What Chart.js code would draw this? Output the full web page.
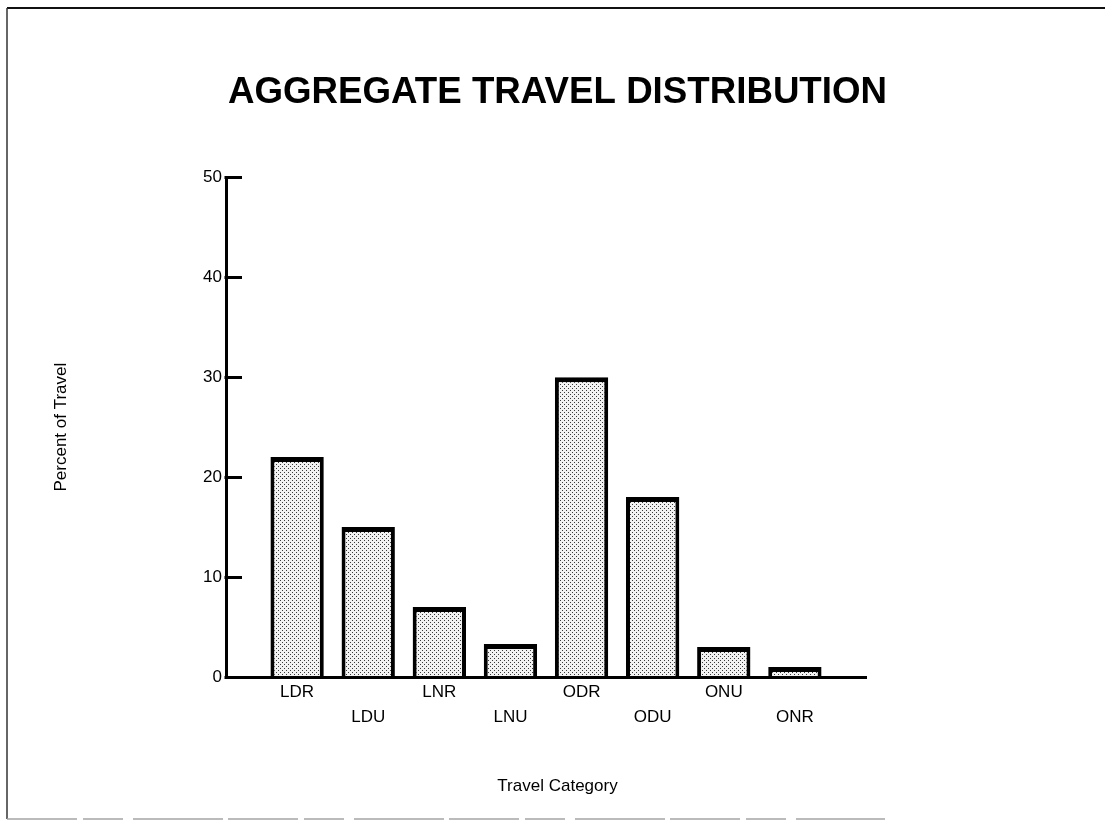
<!DOCTYPE html>
<html>
<head>
<meta charset="utf-8">
<title>Aggregate Travel Distribution</title>
<script src="https://cdn.jsdelivr.net/npm/chart.js@4/dist/chart.umd.min.js"></script>
<style>
  html, body { margin: 0; padding: 0; background: #fff; }
  #wrap { width: 1105px; height: 821px; }
</style>
</head>
<body>
<div id="wrap"><canvas id="chart" width="1105" height="821"></canvas></div>
<script>
// Travel categories and their share of total travel (percent)
const categories = ['LDR', 'LDU', 'LNR', 'LNU', 'ODR', 'ODU', 'ONU', 'ONR'];
const percentOfTravel = [22, 15, 7, 3.3, 30, 18, 3, 1];
const yTickValues = [0, 10, 20, 30, 40, 50];

const FONT = '"Liberation Sans", Arial, Helvetica, sans-serif';

// Stippled fill used for the bars
function stipple() {
  const c = document.createElement('canvas');
  c.width = 4; c.height = 4;
  const g = c.getContext('2d');
  g.fillStyle = '#f2f2f2';
  g.fillRect(0, 0, 4, 4);
  g.fillStyle = '#3a3a3a';
  g.fillRect(0, 0, 1, 1);
  g.fillRect(2, 2, 1, 1);
  return g.createPattern(c, 'repeat');
}

// Page frame drawn behind the chart
const framePlugin = {
  id: 'frame',
  beforeDraw(chart) {
    const ctx = chart.ctx;
    ctx.save();
    ctx.fillStyle = '#fff';
    ctx.fillRect(0, 0, chart.width, chart.height);
    ctx.strokeStyle = '#111';
    ctx.lineWidth = 2;
    ctx.beginPath();
    ctx.moveTo(7, 8); ctx.lineTo(chart.width, 8);
    ctx.stroke();
    ctx.lineWidth = 1.5;
    ctx.strokeStyle = '#333';
    ctx.beginPath();
    ctx.moveTo(7, 8); ctx.lineTo(7, 819);
    ctx.stroke();
    ctx.strokeStyle = '#a5a5a5';
    ctx.lineWidth = 1.5;
    ctx.setLineDash([70, 6, 40, 10, 90, 5]);
    ctx.beginPath();
    ctx.moveTo(7, 819); ctx.lineTo(885, 819);
    ctx.stroke();
    ctx.restore();
  }
};

// Value-axis tick marks pointing into the plot
const innerTicks = {
  id: 'innerTicks',
  afterDraw(chart) {
    const y = chart.scales.y;
    const x0 = chart.chartArea.left;
    const ctx = chart.ctx;
    ctx.save();
    ctx.strokeStyle = '#000';
    ctx.lineWidth = 3;
    ctx.lineCap = 'butt';
    y.ticks.forEach(t => {
      const py = Math.round(y.getPixelForValue(t.value)) + 0.5;
      ctx.beginPath();
      ctx.moveTo(x0 - 1.5, py);
      ctx.lineTo(x0 + 16, py);
      ctx.stroke();
    });
    ctx.restore();
  }
};

new Chart(document.getElementById('chart'), {
  type: 'bar',
  data: {
    datasets: [{
      data: percentOfTravel.map((v, i) => ({ x: i, y: v })),
      backgroundColor: stipple(),
      borderColor: '#000',
      borderWidth: { top: 5, left: 4, right: 4, bottom: 0 },
      borderSkipped: false,
      barPercentage: 0.75,
      categoryPercentage: 1
    }]
  },
  options: {
    responsive: false,
    animation: false,
    devicePixelRatio: 1,
    layout: { padding: { left: 10, right: 0, top: 0, bottom: 0 } },
    plugins: {
      legend: { display: false },
      tooltip: { enabled: false },
      title: {
        display: true,
        text: 'AGGREGATE TRAVEL DISTRIBUTION',
        color: '#000',
        font: { family: FONT, size: 36.7, weight: 'bold' },
        padding: { top: 71, bottom: 62.2 }
      },
      subtitle: {
        display: true,
        position: 'bottom',
        text: 'Travel Category',
        color: '#000',
        font: { family: FONT, size: 17, weight: 'normal' },
        padding: { top: 38.8, bottom: 24.8 }
      }
    },
    scales: {
      x: {
        type: 'linear',
        offset: false,
        bounds: 'ticks',
        min: -1,
        max: 8,
        grid: { display: false, drawTicks: false, offset: false },
        border: { display: true, color: '#000', width: 3, z: 1 },
        afterBuildTicks(scale) {
          scale.ticks = categories.map((_, i) => ({ value: i }));
        },
        afterFit(scale) { scale.height = 60; },
        ticks: {
          autoSkip: false,
          maxRotation: 0,
          minRotation: 0,
          padding: 3,
          color: '#000',
          font: { family: FONT, size: 17, lineHeight: '25px' },
          callback(value) {
            const label = categories[value];
            return value % 2 === 1 ? ['', label] : label;
          }
        }
      },
      y: {
        min: 0,
        max: 50,
        grid: { display: false, drawTicks: false },
        border: { display: true, color: '#000', width: 3, z: 1 },
        afterBuildTicks(scale) {
          scale.ticks = yTickValues.map(v => ({ value: v }));
        },
        afterFit(scale) { scale.width = 216; },
        ticks: {
          padding: 4,
          color: '#000',
          font: { family: FONT, size: 17 }
        },
        title: {
          display: true,
          text: 'Percent of Travel',
          color: '#000',
          font: { family: FONT, size: 17 },
          padding: { top: 40.8, bottom: 0 }
        }
      },
      rightMargin: {
        type: 'linear',
        position: 'right',
        display: true,
        grid: { display: false, drawTicks: false },
        border: { display: false },
        ticks: { display: false },
        afterFit(scale) { scale.width = 239; }
      }
    }
  },
  plugins: [framePlugin, innerTicks]
});
</script>
</body>
</html>
